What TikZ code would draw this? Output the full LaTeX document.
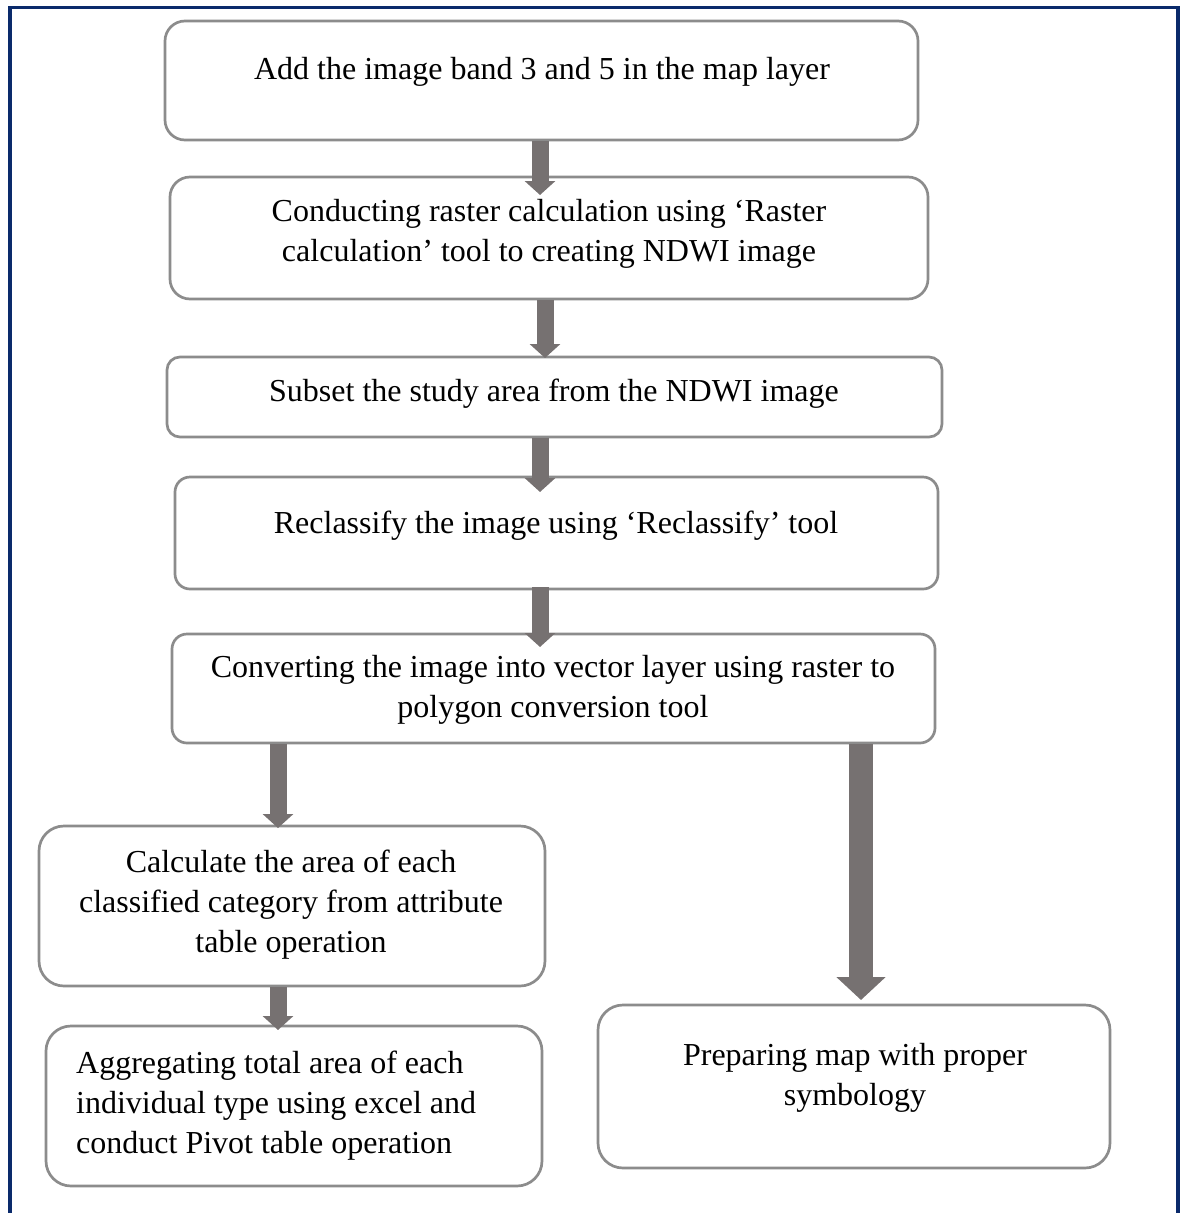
\documentclass[tikz,border=0pt]{standalone}
\usepackage{fontspec}
\setmainfont{Liberation Serif}
\usetikzlibrary{arrows.meta}
\definecolor{framec}{HTML}{0A2A6B}
\definecolor{boxc}{HTML}{8C8C8C}
\definecolor{arrc}{HTML}{767171}
\tikzset{
  box/.style={draw=boxc, line width=2.7pt, rounded corners=#1, inner sep=0pt},
  box/.default=20pt,
  txt/.style={inner sep=0pt, align=center, font=\fontsize{32}{40}\selectfont},
  fatarrow/.style={draw=arrc, line width=17pt, -{Triangle[width=30pt,length=14pt]}},
  bigarrow/.style={draw=arrc, line width=24pt, -{Triangle[width=48pt,length=23pt]}},
}
\begin{document}
\begin{tikzpicture}[x=1pt,y=-1pt]
\useasboundingbox (0,0) rectangle (1181,1213);
\draw[framec, line width=3.2pt] (10,1215) -- (10,7.5) -- (1178,7.5) -- (1178,1215);

% boxes
\node[box, minimum width=753pt, minimum height=119pt] (b1) at (541.5,80.5) {};
\node[box, minimum width=758pt, minimum height=122pt] (b2) at (549,238) {};
\node[box=13pt, minimum width=775pt, minimum height=80pt] (b3) at (554.5,397) {};
\node[box=15pt, minimum width=763pt, minimum height=112pt] (b4) at (556.5,533) {};
\node[box=15pt, minimum width=763pt, minimum height=109pt] (b5) at (553.5,688.5) {};
\node[box=25pt, minimum width=506pt, minimum height=160pt] (b6) at (292,906) {};
\node[box=25pt, minimum width=496pt, minimum height=160pt] (b7) at (294,1106) {};
\node[box=25pt, minimum width=512pt, minimum height=163pt] (b8) at (854,1086.5) {};

% texts
\node[txt] (t1) at (542,72) {Add the image band 3 and 5 in the map layer};
\node[txt] (t2) at (549,234) {Conducting raster calculation using `Raster\\calculation' tool to creating NDWI image};
\node[txt] (t3) at (554,394) {Subset the study area from the NDWI image};
\node[txt] (t4) at (556,526) {Reclassify the image using `Reclassify' tool};
\node[txt] (t5) at (553,690) {Converting the image into vector layer using raster to\\polygon conversion tool};
\node[txt] (t6) at (291,905) {Calculate the area of each\\classified category from attribute\\table operation};
\node[txt, align=left, anchor=west] (t7) at (76,1106) {Aggregating total area of each\\individual type using excel and\\conduct Pivot table operation};
\node[txt] (t8) at (855,1078) {Preparing map with proper\\symbology};

% arrows
\coordinate (e1) at (540,195);
\coordinate (e2) at (545,358);
\coordinate (e3) at (540,492);
\coordinate (e4) at (540,647);
\coordinate (e5) at (278,828);
\coordinate (e6) at (861,1000);
\coordinate (e7) at (278,1030);
\draw[fatarrow] (b1.south -| e1) -- (e1);
\draw[fatarrow] (b2.south -| e2) -- (e2);
\draw[fatarrow] (b3.south -| e3) -- (e3);
\draw[fatarrow] ([yshift=3pt]b4.south -| e4) -- (e4);
\draw[fatarrow] (b5.south -| e5) -- (e5);
\draw[bigarrow] (b5.south -| e6) -- (e6);
\draw[fatarrow] (b6.south -| e7) -- (e7);
\end{tikzpicture}
\end{document}
